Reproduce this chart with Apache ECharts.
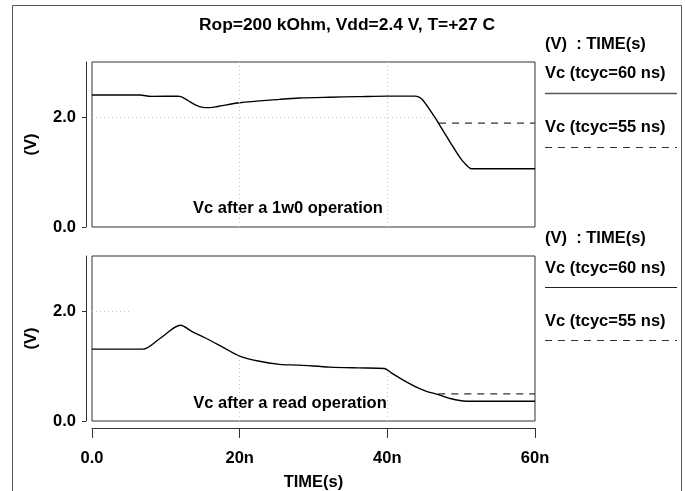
<!DOCTYPE html>
<html><head><meta charset="utf-8">
<script src="https://cdn.jsdelivr.net/npm/echarts@6/dist/echarts.min.js"></script>
<style>html,body{margin:0;padding:0;background:#fff}#c{width:685px;height:491px}</style>
</head><body><div id="c"></div>
<script>
// ---- data (time in ns, voltage in V) ----
const xTicks = [0, 20, 40, 60];
const xTickLabels = ['0.0', '20n', '40n', '60n'];
const yTicks = [0, 2];
const yTickLabels = ['0.0', '2.0'];

// Vc after a 1w0 operation
const tW60 = [0, 6.5, 8, 11.6, 12.2, 13, 14, 15, 16, 17, 20, 25.4, 28.1, 32.2, 36, 40, 43.7, 44.3, 44.85, 45.8, 46.7, 47.6, 48.5, 49.8, 50.6, 51.4, 60];
const vW60 = [2.40, 2.40, 2.375, 2.38, 2.36, 2.30, 2.22, 2.175, 2.17, 2.19, 2.26, 2.32, 2.345, 2.36, 2.37, 2.38, 2.38, 2.36, 2.30, 2.12, 1.94, 1.74, 1.545, 1.27, 1.14, 1.06, 1.06];
const tW55 = [47.0, 60];
const vW55 = [1.89, 1.89];

// Vc after a read operation
const tR60 = [0, 6.9, 9.2, 12, 13.5, 15.5, 18, 20, 22.5, 25.4, 28.1, 32.2, 36, 39.6, 40.5, 41.7, 43, 44, 45.3, 46.7, 48.5, 50.7, 60];
const vR60 = [1.306, 1.306, 1.50, 1.74, 1.63, 1.50, 1.32, 1.18, 1.09, 1.03, 1.015, 0.98, 0.965, 0.955, 0.88, 0.78, 0.68, 0.61, 0.54, 0.49, 0.41, 0.36, 0.36];
const tR55 = [46.9, 60];
const vR55 = [0.495, 0.495];

const title = 'Rop=200 kOhm, Vdd=2.4 V, T=+27 C';
const legendHead = '(V)  : TIME(s)';
const legendNames = ['Vc (tcyc=60 ns)', 'Vc (tcyc=55 ns)'];
const notes = ['Vc after a 1w0 operation', 'Vc after a read operation'];

// ---- chart ----
const pairs = (t, v) => t.map((x, i) => [x, v[i]]);
const FONT = '"Liberation Sans", Arial, Helvetica, sans-serif';
const FS = 16.5;
const F = 'bold ' + FS + 'px ' + FONT;
const txt = { fontFamily: FONT, fontWeight: 'bold', fontSize: FS, color: '#000' };
const gridStyle = { type: [1, 3], color: '#c4c4c4', width: 1 };
function gridSegs(segs) {
  return {
    silent: true, symbol: 'none', label: { show: false },
    lineStyle: gridStyle, animation: false, emphasis: { disabled: true },
    data: segs.map(s => [{ coord: [s[0], s[1]] }, { coord: [s[2], s[3]] }])
  };
}
function yAx(gi) {
  return {
    type: 'value', gridIndex: gi, min: 0, max: 3, interval: 1, offset: 6,
    axisLine: { show: true, onZero: false, lineStyle: { color: '#333', width: 1 } },
    axisTick: { show: true, length: 4, lineStyle: { color: '#333' }, customValues: yTicks },
    axisLabel: Object.assign({ margin: 10, customValues: yTicks,
      formatter: v => { const i = yTicks.indexOf(v); return i >= 0 ? yTickLabels[i] : ''; } }, txt),
    splitLine: { show: false },
    name: '(V)', nameLocation: 'middle', nameGap: 46, nameRotate: 90,
    nameTextStyle: txt
  };
}
const option = {
  animation: false,
  backgroundColor: '#fff',
  grid: [
    { left: 92, top: 62, width: 443, height: 165, show: true, borderColor: '#333', borderWidth: 1, backgroundColor: 'transparent', outerBoundsMode: 'none', containLabel: false },
    { left: 92, top: 256, width: 443, height: 165, show: true, borderColor: '#333', borderWidth: 1, backgroundColor: 'transparent', outerBoundsMode: 'none', containLabel: false }
  ],
  xAxis: [
    { type: 'value', gridIndex: 0, min: 0, max: 60, show: false },
    { type: 'value', gridIndex: 1, min: 0, max: 60, interval: 20, offset: 7,
      axisLine: { show: true, onZero: false, lineStyle: { color: '#333', width: 1 } },
      axisTick: { show: true, length: 10, lineStyle: { color: '#333' } },
      axisLabel: Object.assign({ margin: 22,
        formatter: v => { const i = xTicks.indexOf(v); return i >= 0 ? xTickLabels[i] : ''; } }, txt),
      splitLine: { show: false },
      name: 'TIME(s)', nameLocation: 'middle', nameGap: 46, nameTextStyle: txt }
  ],
  yAxis: [yAx(0), yAx(1)],
  series: [
    { type: 'line', xAxisIndex: 0, yAxisIndex: 0, data: pairs(tW55, vW55), showSymbol: false,
      lineStyle: { color: '#333', width: 1.3, type: [7, 6] }, z: 2 },
    { type: 'line', xAxisIndex: 0, yAxisIndex: 0, data: pairs(tW60, vW60), showSymbol: false, smooth: 0.3,
      lineStyle: { color: '#000', width: 1.4 }, z: 3,
      markLine: gridSegs([[20, 0, 20, 3], [40, 0, 40, 3], [0, 2, 46.2, 2]]) },
    { type: 'line', xAxisIndex: 1, yAxisIndex: 1, data: pairs(tR55, vR55), showSymbol: false,
      lineStyle: { color: '#333', width: 1.3, type: [7, 6] }, z: 2 },
    { type: 'line', xAxisIndex: 1, yAxisIndex: 1, data: pairs(tR60, vR60), showSymbol: false, smooth: 0.3,
      lineStyle: { color: '#000', width: 1.4 }, z: 3,
      markLine: gridSegs([[20, 0, 20, 1.14], [40, 0, 40, 0.92], [0, 2, 5.2, 2]]) }
  ],
  graphic: [
    { type: 'rect', shape: { x: 12.5, y: 5.5, width: 669, height: 520 }, style: { fill: 'none', stroke: '#555', lineWidth: 1 }, silent: true },
    { type: 'text', x: 347, y: 25, style: { text: title, textAlign: 'center', textVerticalAlign: 'middle', font: 'bold 17.4px ' + FONT, fill: '#000' } },
    { type: 'text', x: 288, y: 208, style: { text: notes[0], textAlign: 'center', textVerticalAlign: 'middle', font: F, fill: '#000' } },
    { type: 'text', x: 290, y: 403, style: { text: notes[1], textAlign: 'center', textVerticalAlign: 'middle', font: F, fill: '#000' } },
    // legend block, top
    { type: 'text', x: 545, y: 44, style: { text: legendHead, textVerticalAlign: 'middle', font: F, fill: '#000' } },
    { type: 'text', x: 545, y: 73, style: { text: legendNames[0], textVerticalAlign: 'middle', font: F, fill: '#000' } },
    { type: 'line', shape: { x1: 545, y1: 93.5, x2: 677, y2: 93.5 }, style: { stroke: '#555', lineWidth: 1.5 } },
    { type: 'text', x: 545, y: 127, style: { text: legendNames[1], textVerticalAlign: 'middle', font: F, fill: '#000' } },
    { type: 'line', shape: { x1: 545, y1: 147.5, x2: 677, y2: 147.5 }, style: { stroke: '#333', lineWidth: 1.2, lineDash: [7, 6] } },
    // legend block, bottom
    { type: 'text', x: 545, y: 238, style: { text: legendHead, textVerticalAlign: 'middle', font: F, fill: '#000' } },
    { type: 'text', x: 545, y: 268, style: { text: legendNames[0], textVerticalAlign: 'middle', font: F, fill: '#000' } },
    { type: 'line', shape: { x1: 545, y1: 287.5, x2: 677, y2: 287.5 }, style: { stroke: '#222', lineWidth: 1.2 } },
    { type: 'text', x: 545, y: 321, style: { text: legendNames[1], textVerticalAlign: 'middle', font: F, fill: '#000' } },
    { type: 'line', shape: { x1: 545, y1: 340.5, x2: 677, y2: 340.5 }, style: { stroke: '#333', lineWidth: 1.2, lineDash: [7, 6] } }
  ]
};
const chart = echarts.init(document.getElementById('c'), null, { renderer: 'canvas' });
chart.setOption(option);
</script>
</body></html>
